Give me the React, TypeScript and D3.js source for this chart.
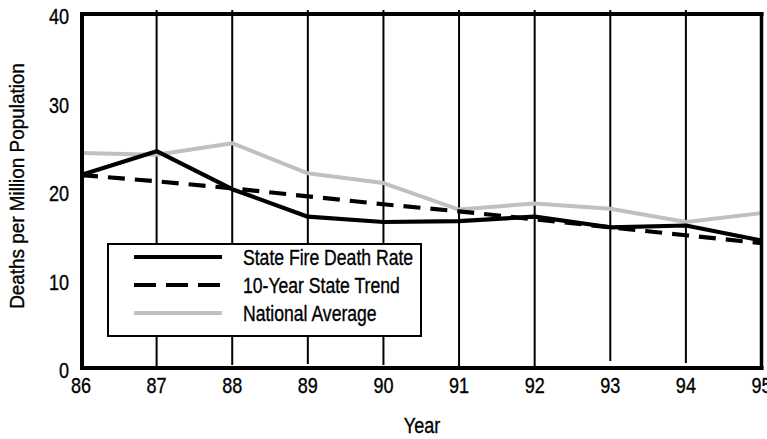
import React from "react";
import * as d3 from "d3";

const years = [86, 87, 88, 89, 90, 91, 92, 93, 94, 95];
const stateRate = [21.8, 24.5, 20.2, 17.1, 16.5, 16.6, 17.1, 15.9, 16.1, 14.4];
const stateTrend = [21.8, 21.1, 20.3, 19.4, 18.5, 17.7, 16.8, 15.9, 15.0, 14.1];
const nationalAvg = [24.3, 24.1, 25.4, 22.0, 20.9, 17.9, 18.6, 18.0, 16.5, 17.5];
const yTicks = [0, 10, 20, 30, 40];
const gridYears = [87, 88, 89, 90, 91, 92, 93, 94];
const legendItems = ["State Fire Death Rate", "10-Year State Trend", "National Average"];

const W = 767;
const H = 439;
const FONT = "'Liberation Sans', Arial, sans-serif";

function NText(props: {
  x: number;
  y: number;
  size: number;
  anchor?: "start" | "middle" | "end";
  sx?: number;
  rotate?: number;
  children: React.ReactNode;
}) {
  const { x, y, size, anchor = "start", sx = 0.82, rotate = 0, children } = props;
  return (
    <text
      transform={`translate(${x},${y}) rotate(${rotate}) scale(${sx},1)`}
      textAnchor={anchor}
      fontSize={size}
      fill="#000"
      stroke="#000"
      strokeWidth={0.35}
    >
      {children}
    </text>
  );
}

export default function App() {
  const x = d3.scaleLinear().domain([86, 95]).range([81, 761.5]);
  const y = d3.scaleLinear().domain([0, 40]).range([368, 14]);
  const line = d3
    .line<number>()
    .x((_, i) => x(years[i]))
    .y((d) => y(d));

  const gridShort: Record<number, number> = { 88: 3, 89: 4, 90: 3, 93: 7, 94: 5 };

  const lg = { x0: 108, y0: 244, x1: 421, y1: 336 };
  const rowY = [257, 285, 313];
  const lineStyles = [
    { stroke: "#000", dash: undefined as string | undefined },
    { stroke: "#000", dash: "22 10" },
    { stroke: "#c0c0c0", dash: undefined },
  ];

  return (
    <svg
      width={W}
      height={H}
      style={{ position: "absolute", left: 0, top: 0, background: "#fff" }}
      fontFamily={FONT}
    >
      <rect width={W} height={H} fill="#fff" />
      {gridYears.map((g) => (
        <line
          key={g}
          x1={x(g)}
          x2={x(g)}
          y1={10}
          y2={y(0) - (gridShort[g] || 0)}
          stroke="#000"
          strokeWidth={2}
        />
      ))}
      <path d={line(nationalAvg) || ""} fill="none" stroke="#c0c0c0" strokeWidth={4} strokeLinejoin="round" />
      <path d={line(stateRate) || ""} fill="none" stroke="#000" strokeWidth={4.2} strokeLinejoin="round" />
      <path d={line(stateTrend) || ""} fill="none" stroke="#000" strokeWidth={4.2} strokeDasharray="17 10" />
      <line x1={x(86) + 1} x2={x(86) + 1} y1={12} y2={370} stroke="#000" strokeWidth={4} />
      <line x1={x(95)} x2={x(95)} y1={12} y2={370} stroke="#000" strokeWidth={3.5} />
      <line x1={x(86) - 1} x2={x(95) + 2} y1={y(40)} y2={y(40)} stroke="#000" strokeWidth={4} />
      <line x1={x(86) - 1} x2={x(95) + 2} y1={y(0)} y2={y(0)} stroke="#000" strokeWidth={4} />
      {yTicks.map((t) => (
        <NText key={t} x={69} y={y(t) + 10} size={22} anchor="end">
          {t}
        </NText>
      ))}
      {years.map((yr) => (
        <NText key={yr} x={x(yr)} y={393} size={22} anchor="middle">
          {yr}
        </NText>
      ))}
      <NText x={422} y={433} size={22} anchor="middle">
        Year
      </NText>
      <NText x={24} y={186} size={21} anchor="middle" rotate={-90} sx={0.9}>
        Deaths per Million Population
      </NText>
      <rect x={lg.x0} y={lg.y0} width={lg.x1 - lg.x0} height={lg.y1 - lg.y0} fill="#fff" stroke="#000" strokeWidth={2} />
      {legendItems.map((name, i) => (
        <g key={name}>
          <line
            x1={134}
            x2={222}
            y1={rowY[i]}
            y2={rowY[i]}
            stroke={lineStyles[i].stroke}
            strokeWidth={4}
            strokeDasharray={lineStyles[i].dash}
          />
          <NText x={243} y={rowY[i] + 8} size={22} sx={0.8}>
            {name}
          </NText>
        </g>
      ))}
    </svg>
  );
}
